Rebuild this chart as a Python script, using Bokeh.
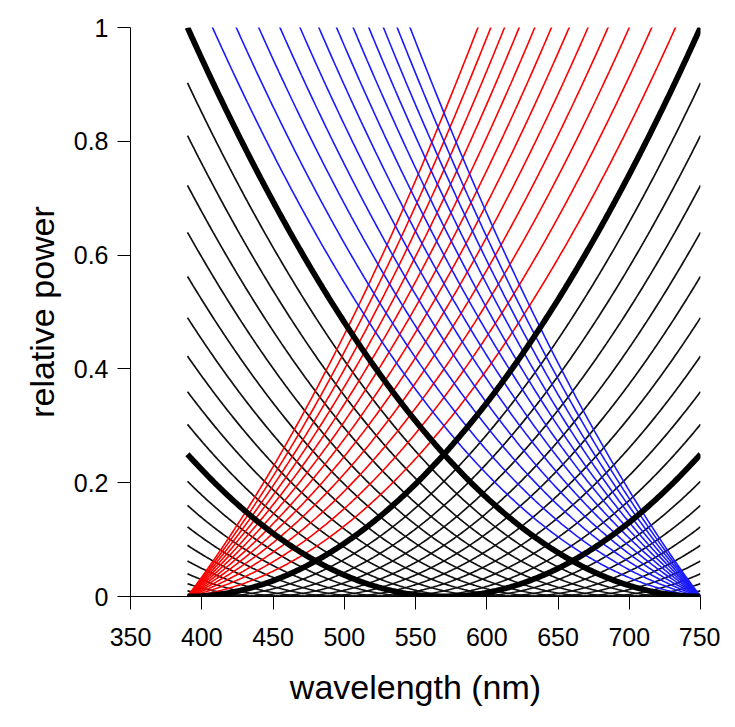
import numpy as np
from bokeh.plotting import figure
from bokeh.models import FixedTicker, Range1d
from bokeh.embed import file_html
from bokeh.resources import INLINE

# ---------------- data ----------------
wl_start, wl_end = 390, 750          # wavelength span of every curve (nm)
span_nm = 360                        # normalisation width of the parabolas
# vertices (nm) of the black parabola family  ((x - c) / 360)^2
black_vertex_nm = [390, 408, 426, 444, 462, 480, 498, 516, 534, 552, 570,
                   588, 606, 624, 642, 660, 678, 696, 714, 732, 750]
thick_vertex_nm = [390, 570, 750]
# vertices (nm) of the red family, each shifted to pass through (390, 0)
red_vertex_nm = [372, 354, 336, 318, 300, 282, 264, 246, 228, 210, 192, 174]
# vertices (nm) of the blue family, each shifted to pass through (750, 0)
blue_vertex_nm = [768, 786, 804, 822, 840, 858, 876, 894, 912, 930, 948, 966]

x_ticks = [350, 400, 450, 500, 550, 600, 650, 700, 750]
y_ticks = [0, 0.2, 0.4, 0.6, 0.8, 1]
y_tick_labels = ["0", "0.2", "0.4", "0.6", "0.8", "1"]

wl = np.arange(wl_start, wl_end + 1, 1.0)


def parabola(c, anchor=None):
    y = (wl - c) ** 2
    if anchor is not None:
        y = y - (anchor - c) ** 2
    return list(y / span_nm ** 2)


FONT = "Liberation Sans"

p = figure(width=720, height=708, output_backend="svg", toolbar_location=None,
           x_range=Range1d(350, 750), y_range=Range1d(0, 1),
           min_border_left=130, min_border_right=20,
           min_border_top=27, min_border_bottom=112)
p.outline_line_color = None
p.xgrid.visible = False
p.ygrid.visible = False
p.background_fill_color = "white"
p.border_fill_color = "white"

thin = [c for c in black_vertex_nm if c not in thick_vertex_nm]
p.multi_line(xs=[list(wl)] * len(thin), ys=[parabola(c) for c in thin],
             line_color="#111111", line_width=1.7)
p.multi_line(xs=[list(wl)] * len(red_vertex_nm),
             ys=[parabola(c, wl_start) for c in red_vertex_nm],
             line_color="red", line_width=1.6)
p.multi_line(xs=[list(wl)] * len(blue_vertex_nm),
             ys=[parabola(c, wl_end) for c in blue_vertex_nm],
             line_color="#1a1aff", line_width=1.6)
p.multi_line(xs=[list(wl)] * len(thick_vertex_nm), ys=[parabola(c) for c in thick_vertex_nm],
             line_color="black", line_width=5.8)

p.xaxis.ticker = FixedTicker(ticks=x_ticks)
p.yaxis.ticker = FixedTicker(ticks=y_ticks)
p.yaxis.major_label_overrides = {t: l for t, l in zip(y_ticks, y_tick_labels)}
p.xaxis.axis_label = "wavelength (nm)"
p.yaxis.axis_label = "relative power"

for ax in (p.xaxis[0], p.yaxis[0]):
    ax.minor_tick_line_color = None
    ax.major_tick_in = 0
    ax.major_tick_out = 13
    ax.axis_line_color = "black"
    ax.major_tick_line_color = "black"
    ax.major_label_text_font = FONT
    ax.major_label_text_font_size = "25px"
    ax.major_label_text_color = "black"
    ax.axis_label_text_font = FONT
    ax.axis_label_text_font_size = "34px"
    ax.axis_label_text_font_style = "normal"
    ax.axis_label_text_color = "black"

p.xaxis.major_label_standoff = 18
p.yaxis.major_label_standoff = 9
p.xaxis.axis_label_standoff = 19
p.yaxis.axis_label_standoff = 10

open("out.html", "w").write(file_html(p, INLINE))
